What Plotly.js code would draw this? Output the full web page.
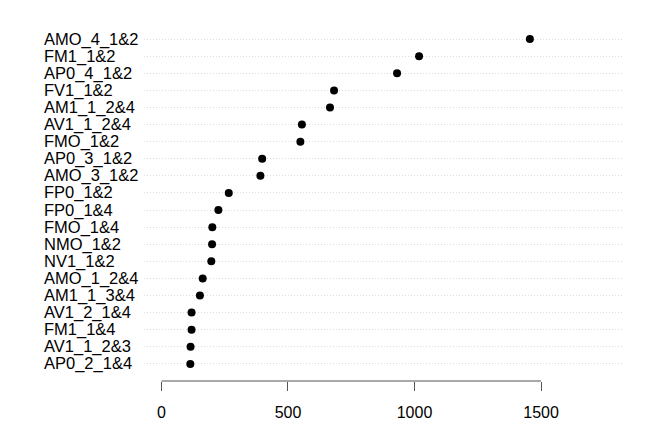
<!DOCTYPE html>
<html>
<head>
<meta charset="utf-8">
<script src="https://cdn.plot.ly/plotly-3.0.1.min.js"></script>
<style>html,body{margin:0;padding:0;background:#fff;}#chart{width:664px;height:443px;}</style>
</head>
<body>
<div id="chart"></div>
<script>
// labels listed top to bottom
var labels = ["AMO_4_1&2","FM1_1&2","AP0_4_1&2","FV1_1&2","AM1_1_2&4","AV1_1_2&4","FMO_1&2","AP0_3_1&2","AMO_3_1&2","FP0_1&2","FP0_1&4","FMO_1&4","NMO_1&2","NV1_1&2","AMO_1_2&4","AM1_1_3&4","AV1_2_1&4","FM1_1&4","AV1_1_2&3","AP0_2_1&4"];
var values = [1456,1018,931,682,666,555,549,398,391,266,225,201,200,197,163,152,119,119,115,114];
var xTicks = [0,500,1000,1500];
var xTickText = ["0","500","1000","1500"];

var font = "Liberation Sans, Arial, Helvetica, sans-serif";
var order = labels.slice().reverse();

var trace = {
  type: "scatter", mode: "markers",
  x: values, y: labels,
  marker: {color: "#000000", size: 8, symbol: "circle"},
  hoverinfo: "x+y"
};

var annotations = labels.map(function(l){
  return {xref: "paper", yref: "y", x: -0.2134, y: l, text: l, showarrow: false,
          xanchor: "left", yanchor: "middle", font: {family: font, size: 16.5, color: "#000"}};
});

var layout = {
  width: 664, height: 443,
  margin: {l: 144, r: 42, t: 22, b: 62},
  paper_bgcolor: "#fff", plot_bgcolor: "#fff",
  showlegend: false,
  xaxis: {
    range: [-69, 1820], showgrid: false, zeroline: false, showline: false,
    tickmode: "array", tickvals: xTicks, ticktext: xTickText,
    ticks: "outside", ticklen: 9, tickwidth: 1, tickcolor: "#555",
    ticklabelstandoff: 8,
    tickfont: {family: font, size: 16, color: "#000"}
  },
  yaxis: {
    type: "category", categoryorder: "array", categoryarray: order,
    range: [-1, 20], showticklabels: false, zeroline: false, showline: false,
    showgrid: true, gridcolor: "#dcdcdc", gridwidth: 1, griddash: "1px,2px", ticks: ""
  },
  shapes: [{type: "line", xref: "x", yref: "paper", x0: xTicks[0], x1: xTicks[xTicks.length-1], y0: 0, y1: 0,
            line: {color: "#555", width: 1}}],
  annotations: annotations
};

Plotly.newPlot("chart", [trace], layout, {displayModeBar: false, staticPlot: true});
</script>
</body>
</html>
